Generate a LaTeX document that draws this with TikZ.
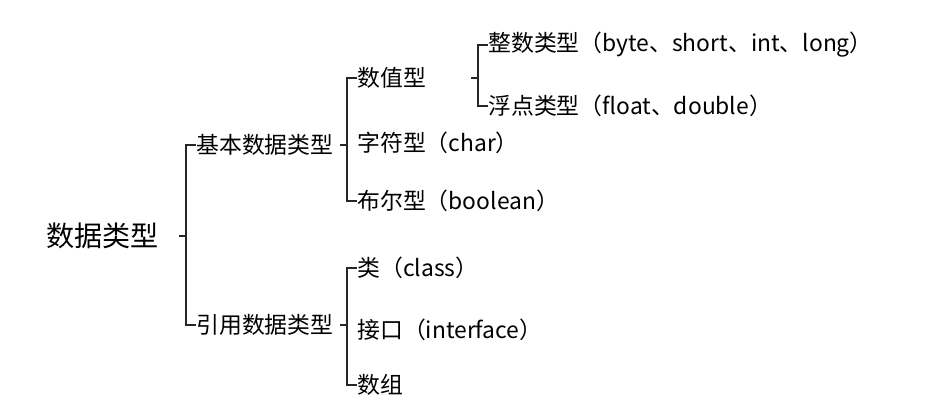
\documentclass[tikz,border=0pt]{standalone}
\usepackage{fontspec}
\setmainfont{Noto Sans CJK SC}
\begin{document}
\begin{tikzpicture}
	[%
	root/.style ={anchor=west, inner sep=0pt, font=\fontsize{16}{18}\selectfont},%
	item/.style ={anchor=west, inner sep=0pt, font=\fontsize{13}{15}\selectfont},%
	brace/.style={thick, black!85},%
	]

	\useasboundingbox (0,0) rectangle (18.6,8.18);

	% nodes
	\node (root) at (0.92,3.46) [root] {数据类型};

	\node (basic) at (3.92,5.28) [item] {基本数据类型};
	\node (ref)   at (3.92,1.68) [item] {引用数据类型};

	\foreach \n/\y/\t in {num/6.62/数值型, chr/5.32/字符型（char）, bool/4.16/布尔型（boolean）,%
						cls/2.82/类（class）, ifc/1.58/接口（interface）, arr/0.48/数组}
		\node (\n) at (7.14,\y) [item] {\t};

	\node (int)   at (9.76,7.28) [item] {整数类型（byte、short、int、long）};
	\node (float) at (9.76,6.06) [item] {浮点类型（float、double）};

	% brackets
	\foreach \p/\a/\b in {root/basic/ref, basic/num/bool, ref/cls/arr, num/int/float}
	{
		\draw [brace] (\a.west) -- ++(-0.2,0) coordinate (b\p) |- (\b.west);
		\draw [brace] (b\p |- \p.east) -- ++(-0.15,0);
	}

\end{tikzpicture}
\end{document}
